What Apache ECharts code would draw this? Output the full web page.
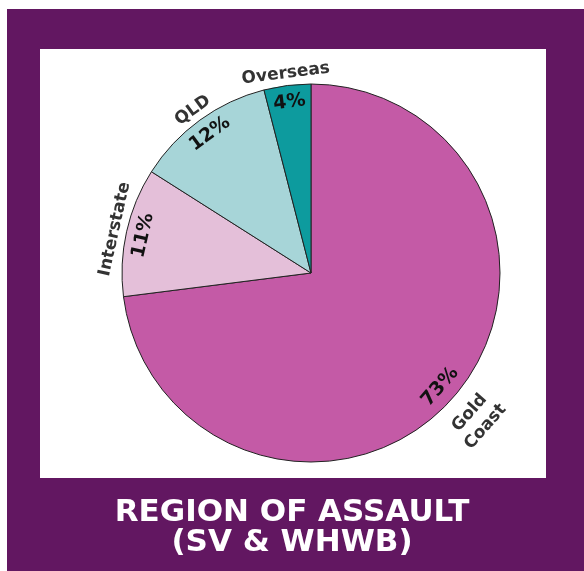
<!DOCTYPE html>
<html>
<head>
<meta charset="utf-8">
<title>Region of Assault</title>
<script src="https://cdn.jsdelivr.net/npm/echarts@6/dist/echarts.min.js"></script>
<style>
  html, body { margin: 0; padding: 0; background: #ffffff; }
  #chart { width: 584px; height: 571px; }
</style>
</head>
<body>
<div id="chart"></div>
<script>
// 数据
var regions = ['Gold Coast', 'Interstate', 'QLD', 'Overseas'];
var nameLabels = ['\n\nGold\nCoast', 'Interstate', 'QLD', 'Overseas'];
var percents = [73, 11, 12, 4];
var colors = ['#c45aa6', '#e4bfd9', '#a7d5d8', '#0d9b9e'];

var titleText = 'REGION OF ASSAULT\n(SV & WHWB)';

var FONT = 'DejaVu Sans';
var CENTER = [311, 273];

function buildData(styleFn) {
  return regions.map(function(r, i) {
    var d = { name: r, value: percents[i] };
    styleFn(d, i);
    return d;
  });
}

// 饼图本体
var pieData = buildData(function(d, i) {
  d.itemStyle = { color: colors[i] };
});

// 百分比标签（透明环）
var valueData = buildData(function(d, i) {
  d.label = { formatter: percents[i] + '%' };
});

// 名称标签（透明环）
var nameData = buildData(function(d, i) {
  d.label = { formatter: nameLabels[i] };
});

var options = {
  animation: false,
  graphic: [
    { type: 'rect', shape: { x: 7, y: 9, width: 577, height: 562 }, style: { fill: '#621761' }, z: -10 },
    { type: 'rect', shape: { x: 40, y: 49, width: 506, height: 429 }, style: { fill: '#ffffff' }, z: -9 }
  ],
  title: {
    text: titleText,
    left: 'center',
    top: 493,
    textStyle: {
      color: '#ffffff',
      fontFamily: FONT,
      fontWeight: 'bold',
      fontSize: 31,
      lineHeight: 30
    }
  },
  series: [
    {
      type: 'pie',
      center: CENTER,
      radius: [0, 189],
      startAngle: 90,
      clockwise: true,
      silent: true,
      label: { show: false },
      labelLine: { show: false },
      itemStyle: { borderColor: '#222222', borderWidth: 1 },
      data: pieData
    },
    {
      type: 'pie',
      center: CENTER,
      radius: [152, 186],
      startAngle: 90,
      clockwise: true,
      silent: true,
      itemStyle: { color: 'transparent' },
      label: {
        show: true,
        position: 'inside',
        rotate: 'tangential',
        color: '#111111',
        fontFamily: FONT,
        fontWeight: 'bold',
        fontSize: 19
      },
      labelLine: { show: false },
      labelLayout: { hideOverlap: false },
      data: valueData
    },
    {
      type: 'pie',
      center: CENTER,
      radius: [188, 208],
      startAngle: 90,
      clockwise: true,
      silent: true,
      itemStyle: { color: 'transparent' },
      label: {
        show: true,
        position: 'inside',
        rotate: 'tangential',
        color: '#333333',
        fontFamily: FONT,
        fontWeight: 'bold',
        fontSize: 17,
        lineHeight: 21
      },
      labelLine: { show: false },
      labelLayout: { hideOverlap: false },
      data: nameData
    }
  ]
};

var myEchart = echarts.init(document.getElementById('chart'));
myEchart.setOption(options);
</script>
</body>
</html>
